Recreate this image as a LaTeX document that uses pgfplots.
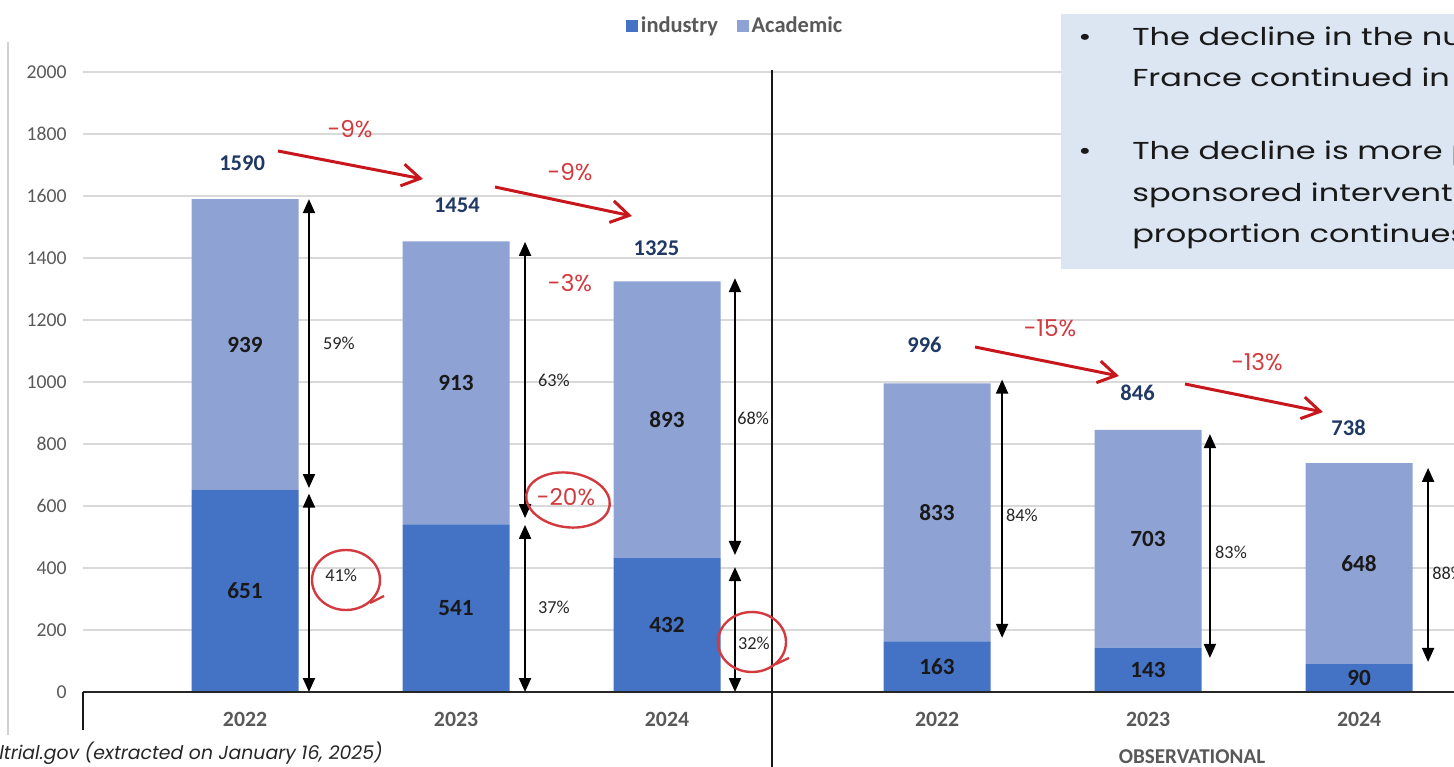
\documentclass[border=0pt]{standalone}
\usepackage{pgfplots}
\pgfplotsset{compat=1.18}
\usepackage{pgfplotstable}
\usetikzlibrary{arrows.meta}
\usepackage{fontspec}
\setmainfont{Carlito}
\newfontfamily\poppins{Poppins}
\newfontfamily\poppinswide{Poppins}[FakeStretch=1.31]

\definecolor{indus}{HTML}{4472C4}
\definecolor{acad}{HTML}{8EA2D3}
\definecolor{tickgray}{HTML}{595959}
\definecolor{navy}{HTML}{1F3864}
\definecolor{redline}{HTML}{C8161D}
\definecolor{redtxt}{HTML}{D33A3F}
\definecolor{boxblue}{HTML}{DCE6F2}

% interventional (0,1,2) and observational (3.28,4.28,5.28)
\pgfplotstableread{
x    ind acad
0    651 939
1    541 913
2    432 893
3.28 163 833
4.28 143 703
5.28 90  648
}\trials

\begin{document}
\begin{tikzpicture}[x=0.25mm,y=-0.25mm,
  segv/.style={font=\bfseries\fontsize{16.5}{18}\selectfont, text=black!90},
  tot/.style={font=\bfseries\fontsize{16}{18}\selectfont, text=navy},
  pct/.style={font=\fontsize{13}{15}\selectfont, text=black!85},
  dbl/.style={line width=0.5mm, {Triangle[length=3.5mm,width=3mm]}-{Triangle[length=3.5mm,width=3mm]}},
  redarr/.style={redline, line width=0.75mm, -{Straight Barb[length=4.5mm,width=5.5mm]}},
  redlab/.style={font=\poppins\fontsize{16.5}{18}\selectfont, text=redtxt},
  hand/.style={redtxt, line width=0.6mm}]
\path[use as bounding box, clip] (0,0) rectangle (1454,767);

\draw[black!18, line width=0.4mm] (8,42) -- (8,735);

\begin{axis}[
    at={(20.75mm,-173mm)}, anchor=south west,
    scale only axis, width=342.75mm, height=155mm,
    xmin=-0.768, xmax=5.730, ymin=0, ymax=2000,
    ybar stacked, bar width=26.75mm,
    axis line style={draw=none},
    major tick length=0pt,
    xtick=data, xticklabels={2022,2023,2024,2022,2023,2024},
    ytick={0,200,...,2000},
    ymajorgrids, grid style={black!15, line width=0.4mm},
    ticklabel style={text=tickgray},
    yticklabel style={font=\fontsize{14}{16}\selectfont, xshift=-2.85mm},
    xticklabel style={font=\bfseries\fontsize{15.5}{18}\selectfont, yshift=-3.7mm},
    /pgf/number format/assume math mode=true,
    /pgf/number format/1000 sep={},
    clip=false,
    legend style={at={(0.476,1.075)}, anchor=center, legend columns=2,
        draw=none, fill=none, text=tickgray,
        font=\bfseries\fontsize{16}{18}\selectfont,
        /tikz/every even column/.append style={column sep=4mm}},
    legend image code/.code={\draw[#1, draw=none] (0cm,-1.5mm) rectangle (3mm,1.5mm);}
]
\addplot[fill=indus, draw=none] table[x=x, y=ind] {\trials};
\addplot[fill=acad, draw=none] table[x=x, y=acad] {\trials};
\legend{industry, Academic}

% anchor points for the segment values (midpoints of each segment)
\coordinate (s1a) at (axis cs:0,325.5);
\coordinate (s1b) at (axis cs:0,1120.5);
\coordinate (s2a) at (axis cs:1,270.5);
\coordinate (s2b) at (axis cs:1,997.5);
\coordinate (s3a) at (axis cs:2,216);
\coordinate (s3b) at (axis cs:2,878.5);
\coordinate (s4a) at (axis cs:3.28,81.5);
\coordinate (s4b) at (axis cs:3.28,579.5);
\coordinate (s5a) at (axis cs:4.28,71.5);
\coordinate (s5b) at (axis cs:4.28,494.5);
\coordinate (s6a) at (axis cs:5.28,45);
\coordinate (s6b) at (axis cs:5.28,414);
\coordinate (xl) at (axis cs:-0.768,0);
\coordinate (xr) at (axis cs:5.73,0);

% totals
\node[tot] at (axis cs:-0.014,1706) {1590};
\node[tot] at (axis cs:1.004,1571) {1454};
\node[tot] at (axis cs:1.95,1432) {1325};
\node[tot] at (axis cs:3.22,1119) {996};
\node[tot] at (axis cs:4.23,964) {846};
\node[tot] at (axis cs:5.23,852) {738};

% share arrows
\draw[dbl] (axis cs:0.303,1590) -- (axis cs:0.303,658);
\draw[dbl] (axis cs:0.303,640) -- (axis cs:0.303,0);
\draw[dbl] (axis cs:1.327,1452) -- (axis cs:1.327,561);
\draw[dbl] (axis cs:1.327,539) -- (axis cs:1.327,0);
\draw[dbl] (axis cs:2.322,1335) -- (axis cs:2.322,442);
\draw[dbl] (axis cs:2.322,403) -- (axis cs:2.322,0);
\draw[dbl] (axis cs:3.588,1008) -- (axis cs:3.588,175);
\draw[dbl] (axis cs:4.573,832) -- (axis cs:4.573,110);
\draw[dbl] (axis cs:5.607,723) -- (axis cs:5.607,97);

% share labels
\node[pct] at (axis cs:0.445,1126) {59\%};
\node[pct] at (axis cs:0.455,377) {41\%};
\node[pct] at (axis cs:1.464,1006) {63\%};
\node[pct] at (axis cs:1.464,274) {37\%};
\node[pct] at (axis cs:2.408,884) {68\%};
\node[pct] at (axis cs:2.412,158) {32\%};
\node[pct] at (axis cs:3.682,571) {84\%};
\node[pct] at (axis cs:4.673,452) {83\%};
\node[pct, anchor=west, inner sep=0pt] at (axis cs:5.626,384) {88\%};
\end{axis}

\draw[black!85, line width=0.45mm] (xl) -- (xr);
\node[segv] at (s1a) {651};
\node[segv] at (s1b) {939};
\node[segv] at (s2a) {541};
\node[segv] at (s2b) {913};
\node[segv] at (s3a) {432};
\node[segv] at (s3b) {893};
\node[segv] at (s4a) {163};
\node[segv] at (s4b) {833};
\node[segv] at (s5a) {143};
\node[segv] at (s5b) {703};
\node[segv] at (s6a) {90};
\node[segv] at (s6b) {648};

% divider and axis edge
\draw[black!90, line width=0.5mm] (772,70) -- (772,767);
\draw[black!90, line width=0.5mm] (83,692) -- (83,730);

% trend arrows
\draw[redarr] (278,151) -- (423,179);
\draw[redarr] (495,187) -- (632,216);
\draw[redarr] (975,347) -- (1119,376);
\draw[redarr] (1185,384) -- (1323,412);
\node[redlab] at (350,129) {-9\%};
\node[redlab] at (570,172) {-9\%};
\node[redlab] at (570,283) {-3\%};
\node[redlab] at (1050,328) {-15\%};
\node[redlab] at (1257,362) {-13\%};
\node[redlab] at (566,497) {-20\%};

% hand-drawn circles
\draw[hand] (346,580) ellipse [x radius=8.5mm, y radius=7.5mm];
\draw[hand] (370,603) -- (384,596);
\draw[hand, rotate around={-8:(568,500)}] (568,500) ellipse [x radius=10.5mm, y radius=6.8mm];
\draw[hand] (752,642) ellipse [x radius=8.5mm, y radius=7.5mm];
\draw[hand] (776,664) -- (789,658);

% text box
\fill[boxblue] (1061,14) rectangle (1470,269);
\begin{scope}[every node/.style={anchor=base west, inner sep=0pt, text=black!90,
    font=\poppinswide\fontsize{17.4}{20}\selectfont}]
\node at (1078,46) {\textbullet};
\node at (1132,46) {The decline in the number of clinical trials in};
\node at (1132,87) {France continued in 2024.};
\node at (1078,160) {\textbullet};
\node at (1132,160) {The decline is more pronounced for industry-};
\node at (1132,201) {sponsored interventional trials, whose};
\node at (1132,242) {proportion continues to fall.};
\end{scope}

% source and group name
\node[anchor=base east, inner sep=0pt, text=black!85,
  font=\poppins\itshape\fontsize{13.4}{15}\selectfont] at (383,759)
  {Source: clinicaltrial.gov (extracted on January 16, 2025)};
\node[font=\bfseries\fontsize{15}{18}\selectfont, text=tickgray] at (1192,757) {OBSERVATIONAL};
\end{tikzpicture}
\end{document}
